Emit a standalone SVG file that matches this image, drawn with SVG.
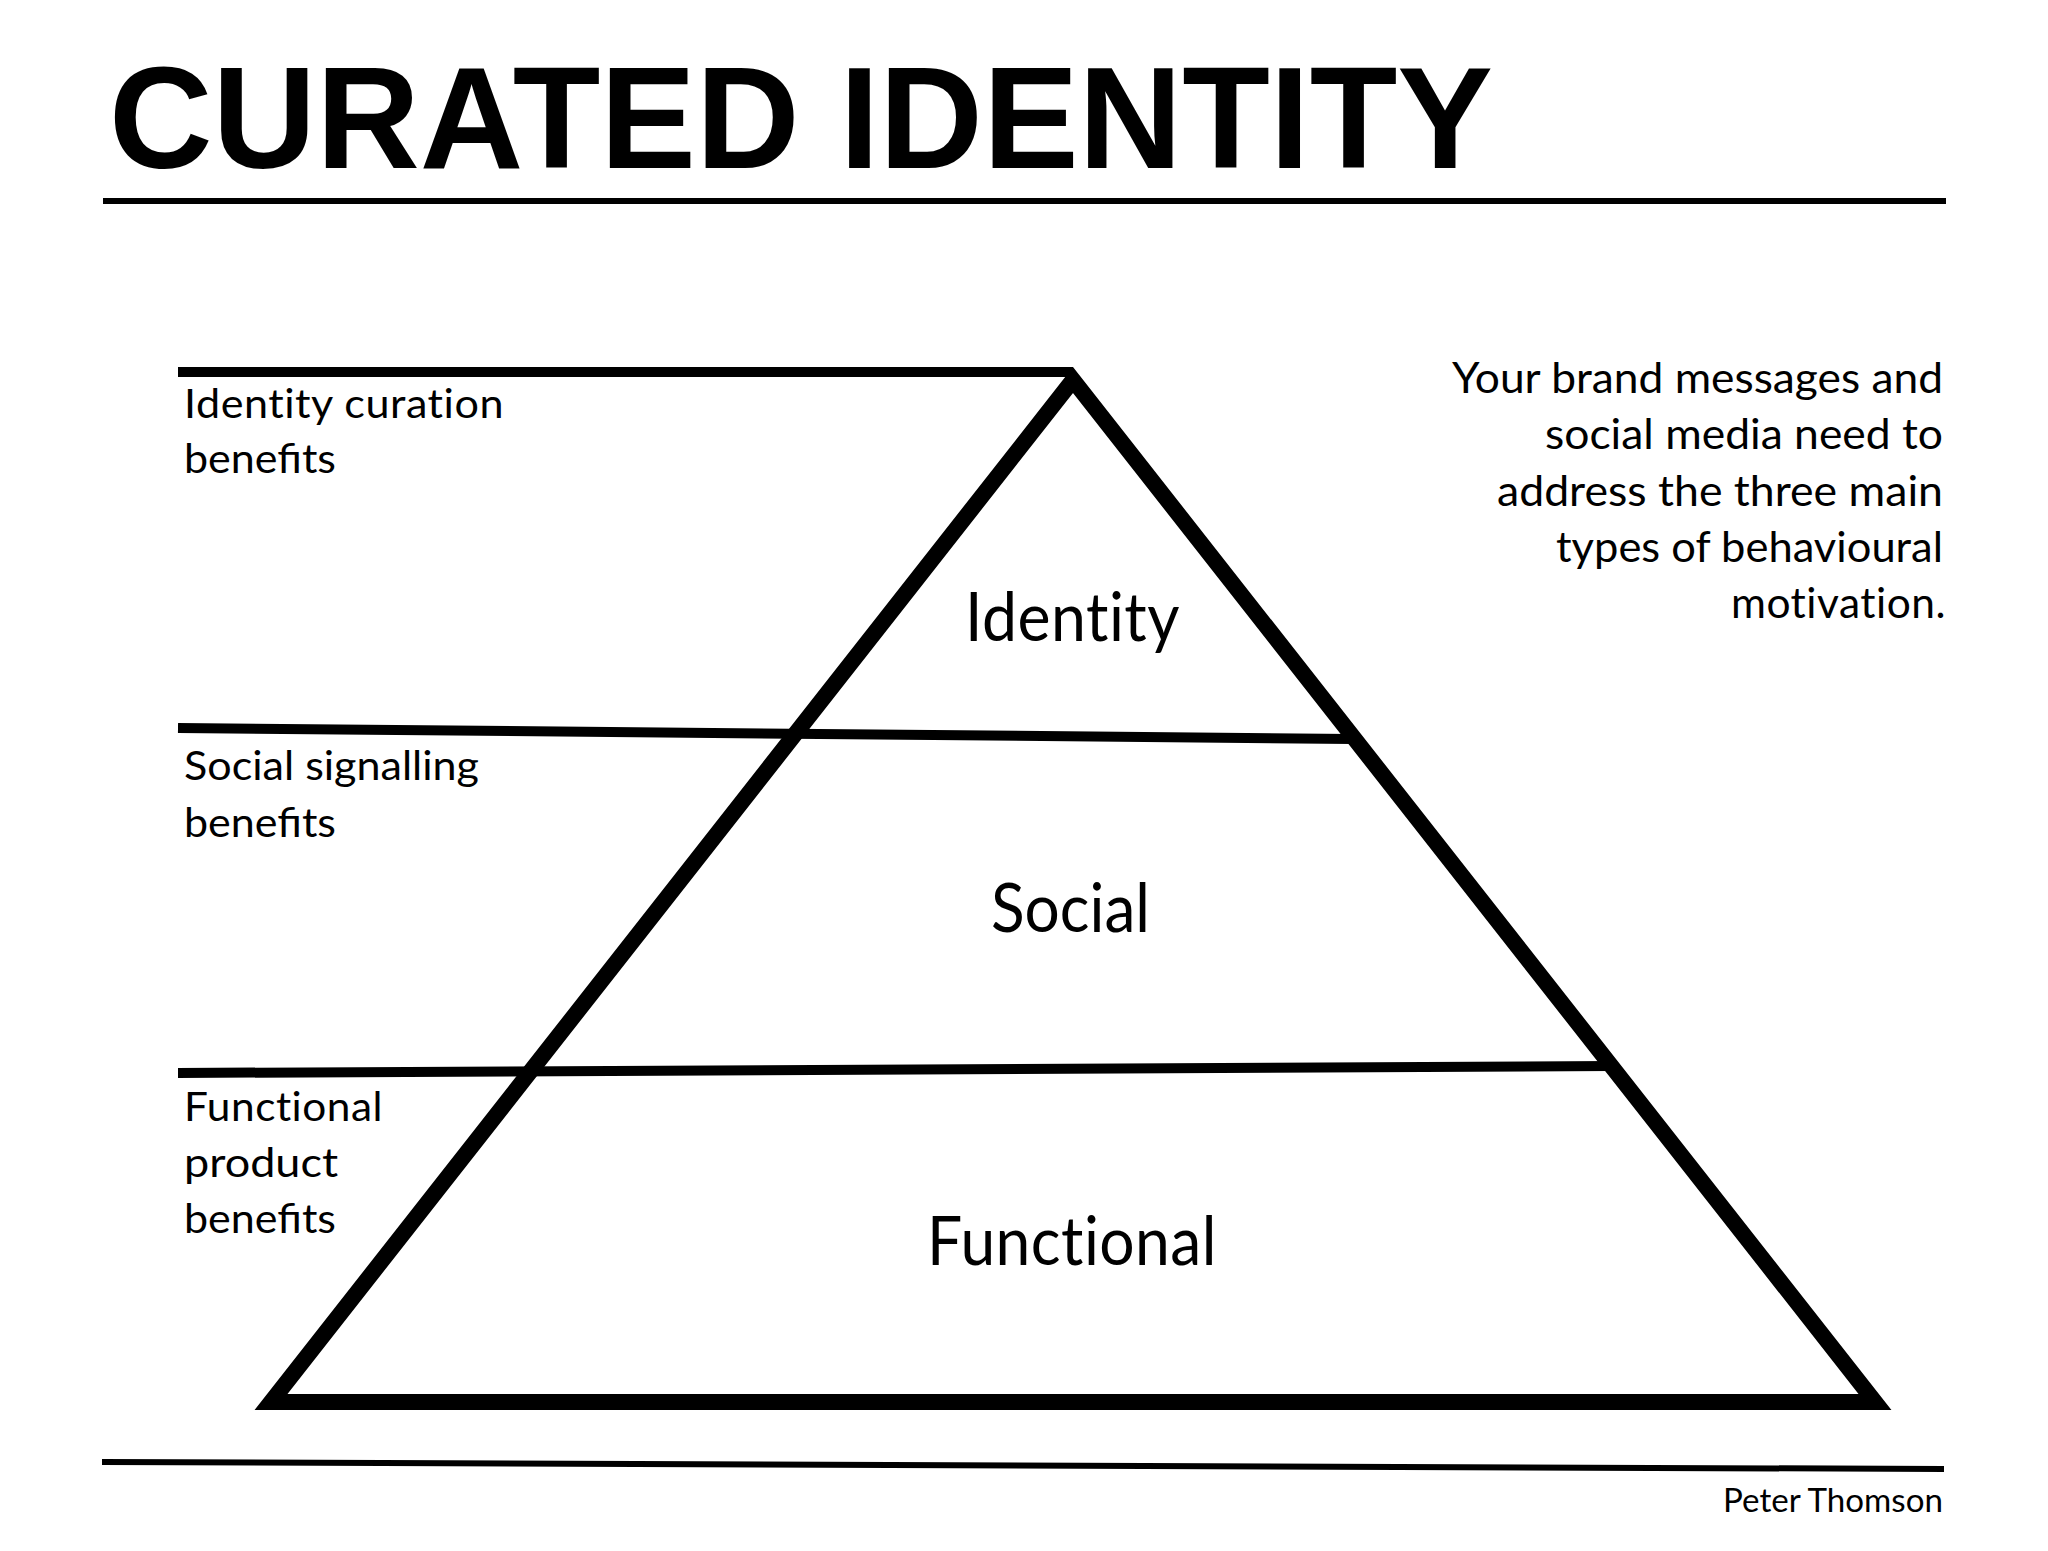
<svg xmlns="http://www.w3.org/2000/svg" width="2048" height="1551" viewBox="0 0 2048 1551">
<style>
.ln{stroke:#000;fill:none;stroke-linecap:butt}
.t{font-family:Lato,"Open Sans","Liberation Sans",sans-serif;fill:#000}
.nl{font-variant-ligatures:none;font-feature-settings:"liga" 0,"clig" 0,"dlig" 0;letter-spacing:0.5px}
.side{font-size:41px}
.tier{font-size:67px}
.para{font-size:42px;text-anchor:end}
</style>
<rect width="2048" height="1551" fill="#fff"/>
<g id="title">
<text x="109" y="168" font-family="'Liberation Sans',Arial,sans-serif" font-weight="bold" font-size="144" textLength="1384" lengthAdjust="spacingAndGlyphs">CURATED IDENTITY</text>
<line class="ln" x1="103" y1="201" x2="1946" y2="201" stroke-width="6"/>
</g>
<g id="connectors">
<line class="ln" x1="178" y1="372" x2="1073" y2="372" stroke-width="10"/>
<line class="ln" x1="178" y1="728" x2="1352" y2="739" stroke-width="10"/>
<line class="ln" x1="178" y1="1073" x2="1612" y2="1066" stroke-width="10"/>
</g>
<g id="pyramid">
<polygon class="ln" points="1073,380 1875,1402 271,1402" stroke-width="16" stroke-linejoin="miter"/>
</g>
<g id="tier-identity"><text class="t tier nl" x="965" y="641" textLength="215" lengthAdjust="spacingAndGlyphs">Identity</text></g>
<g id="tier-social"><text class="t tier" x="991" y="932" textLength="159" lengthAdjust="spacingAndGlyphs">Social</text></g>
<g id="tier-functional"><text class="t tier nl" x="927" y="1265" textLength="290" lengthAdjust="spacingAndGlyphs">Functional</text></g>
<g id="label-identity">
<text class="t side nl" x="184" y="418" textLength="320" lengthAdjust="spacingAndGlyphs">Identity curation</text>
<text class="t side" x="184" y="473" textLength="152" lengthAdjust="spacingAndGlyphs">benefits</text>
</g>
<g id="label-social">
<text class="t side" x="184" y="780" textLength="295" lengthAdjust="spacingAndGlyphs">Social signalling</text>
<text class="t side" x="184" y="837" textLength="152" lengthAdjust="spacingAndGlyphs">benefits</text>
</g>
<g id="label-functional">
<text class="t side nl" x="184" y="1121" textLength="199" lengthAdjust="spacingAndGlyphs">Functional</text>
<text class="t side" x="184" y="1177" textLength="154" lengthAdjust="spacingAndGlyphs">product</text>
<text class="t side" x="184" y="1233" textLength="152" lengthAdjust="spacingAndGlyphs">benefits</text>
</g>
<g id="paragraph">
<text class="t para" x="1943" y="393" textLength="491" lengthAdjust="spacingAndGlyphs">Your brand messages and</text>
<text class="t para" x="1943" y="449" textLength="398" lengthAdjust="spacingAndGlyphs">social media need to</text>
<text class="t para" x="1943" y="506" textLength="446" lengthAdjust="spacingAndGlyphs">address the three main</text>
<text class="t para" x="1943" y="562" textLength="387" lengthAdjust="spacingAndGlyphs">types of behavioural</text>
<text class="t para nl" x="1946" y="618" textLength="215" lengthAdjust="spacingAndGlyphs">motivation.</text>
</g>
<g id="footer">
<line class="ln" x1="102" y1="1462" x2="1944" y2="1469" stroke-width="6"/>
<text class="t" x="1943" y="1512" font-size="32" text-anchor="end" textLength="220" lengthAdjust="spacingAndGlyphs">Peter Thomson</text>
</g>
</svg>
